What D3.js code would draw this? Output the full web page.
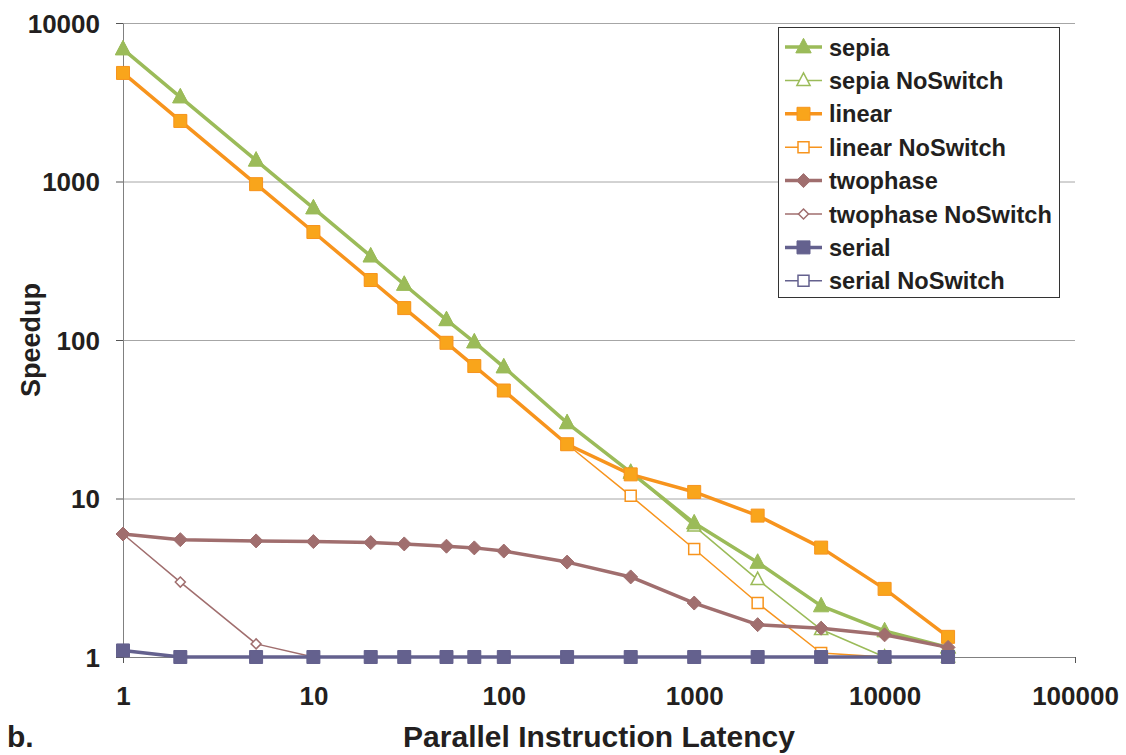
<!DOCTYPE html>
<html>
<head>
<meta charset="utf-8">
<script src="https://cdn.jsdelivr.net/npm/d3@7"></script>
<style>
  body { margin: 0; background: #fff; }
  svg text { font-family: "Liberation Sans", Arial, sans-serif; font-weight: bold; fill: #231f20; }
</style>
</head>
<body>
<svg class="chart"></svg>
<script>
// values
var latency = [1, 2, 5, 10, 20, 30, 50, 70, 100, 215, 464, 1000, 2154, 4642, 10000, 21544];

var sepia            = [6850, 3410, 1360, 680, 338, 224, 134, 97, 67.5, 30, 14.6, 7.0, 3.95, 2.1, 1.46, 1.15];
var sepiaNoSwitch    = [6850, 3410, 1360, 680, 338, 224, 134, 97, 67.5, 30, 14.6, 6.7, 3.08, 1.49, 1.0, 1.0];
var linear           = [4840, 2410, 962, 480, 239, 159, 96, 68.5, 48, 22, 14.2, 11.0, 7.8, 4.9, 2.69, 1.34];
var linearNoSwitch   = [4840, 2410, 962, 480, 239, 159, 96, 68.5, 48, 22, 10.4, 4.8, 2.19, 1.06, 1.0, 1.0];
var twophase         = [5.97, 5.5, 5.4, 5.35, 5.27, 5.17, 5.0, 4.88, 4.66, 3.97, 3.2, 2.19, 1.6, 1.52, 1.38, 1.15];
var twophaseNoSwitch = [5.97, 2.97, 1.21, 1, 1, 1, 1, 1, 1, 1, 1, 1, 1, 1, 1, 1];
var serial           = [1.1, 1, 1, 1, 1, 1, 1, 1, 1, 1, 1, 1, 1, 1, 1, 1];
var serialNoSwitch   = [1.1, 1, 1, 1, 1, 1, 1, 1, 1, 1, 1, 1, 1, 1, 1, 1];

var xTicks = [1, 10, 100, 1000, 10000, 100000];
var yTicks = [1, 10, 100, 1000, 10000];

var green = '#9bbb59', orange = '#f7941d', mauve = '#a06e6e', slate = '#64618e';

// legend order = series order
var series = [
  {name: 'sepia',              values: sepia,            color: green,  shape: 'tri', filled: true},
  {name: 'sepia NoSwitch',     values: sepiaNoSwitch,    color: green,  shape: 'tri', filled: false},
  {name: 'linear',             values: linear,           color: orange, shape: 'sq',  filled: true},
  {name: 'linear NoSwitch',    values: linearNoSwitch,   color: orange, shape: 'sq',  filled: false},
  {name: 'twophase',           values: twophase,         color: mauve,  shape: 'dia', filled: true},
  {name: 'twophase NoSwitch',  values: twophaseNoSwitch, color: mauve,  shape: 'dia', filled: false},
  {name: 'serial',             values: serial,           color: slate,  shape: 'sq',  filled: true},
  {name: 'serial NoSwitch',    values: serialNoSwitch,   color: slate,  shape: 'sq',  filled: false}
];

var W = 1126, H = 755;
var svg = d3.select('.chart').attr('width', W).attr('height', H);

var x = d3.scaleLog().domain([1, 100000]).range([123, 1075]),
    y = d3.scaleLog().domain([1, 10000]).range([657, 23]);

// gridlines
svg.append('g')
  .attr('transform', 'translate(123,0)')
  .call(d3.axisLeft(y).tickValues(yTicks.slice(1)).tickSize(-(1075 - 123)).tickFormat(''))
  .call(function(g) {
    g.select('.domain').remove();
    g.selectAll('.tick line').attr('stroke', '#a6a6a6').attr('stroke-width', 1);
  });

// y axis
svg.append('g')
  .attr('transform', 'translate(123,0)')
  .call(d3.axisLeft(y).tickValues(yTicks).tickSize(7).tickSizeOuter(0).tickPadding(16).tickFormat(d3.format('d')))
  .call(function(g) {
    g.select('.domain').attr('stroke', '#808080');
    g.selectAll('.tick line').attr('stroke', '#555');
    g.selectAll('.tick text').attr('font-size', 26).attr('font-family', null).attr('fill', '#231f20').attr('dy', '0.36em');
  });

// x axis
svg.append('g')
  .attr('transform', 'translate(0,657)')
  .call(d3.axisBottom(x).tickValues(xTicks).tickSize(6).tickSizeOuter(0).tickPadding(24).tickFormat(d3.format('d')))
  .call(function(g) {
    g.select('.domain').attr('stroke', '#808080');
    g.selectAll('.tick line').attr('stroke', '#555');
    g.selectAll('.tick text').attr('font-size', 26).attr('font-family', null).attr('fill', '#231f20');
  });

function markerPath(shape, s) {
  if (shape === 'tri') return 'M0,' + (-s * 0.62) + 'L' + (s * 0.55) + ',' + (s * 0.42) + 'L' + (-s * 0.55) + ',' + (s * 0.42) + 'Z';
  if (shape === 'dia') return 'M0,' + (-s / 2) + 'L' + (s / 2) + ',0L0,' + (s / 2) + 'L' + (-s / 2) + ',0Z';
  return 'M' + (-s / 2) + ',' + (-s / 2) + 'h' + s + 'v' + s + 'h' + (-s) + 'Z';
}
function markerSize(d) {
  if (d.filled) return d.shape === 'tri' ? 14 : (d.shape === 'dia' ? 14 : 13);
  return d.shape === 'tri' ? 12 : (d.shape === 'dia' ? 10 : 11);
}

var line = d3.line()
  .x(function(d) { return x(d[0]); })
  .y(function(d) { return y(d[1]); });

// NoSwitch series underneath, then the filled ones
var drawOrder = series.filter(function(s) { return !s.filled; }).concat(series.filter(function(s) { return s.filled; }));

drawOrder.forEach(function(s) {
  var pts = latency.map(function(l, i) { return [l, s.values[i]]; });
  var g = svg.append('g');
  g.append('path')
    .attr('d', line(pts))
    .attr('fill', 'none')
    .attr('stroke', s.color)
    .attr('stroke-width', s.filled ? 3.5 : 1.5)
    .attr('stroke-linejoin', 'round');
  g.selectAll('path.mk')
    .data(pts)
    .enter().append('path')
      .attr('class', 'mk')
      .attr('transform', function(d) { return 'translate(' + x(d[0]) + ',' + y(d[1]) + ')'; })
      .attr('d', markerPath(s.shape, markerSize(s)))
      .attr('fill', s.filled ? (s.color === orange ? '#f9a51b' : s.color) : '#fff')
      .attr('stroke', s.color)
      .attr('stroke-width', s.filled ? 1 : 1.5);
});

// legend
var lg = svg.append('g');
lg.append('rect')
  .attr('x', 778.5).attr('y', 27.5).attr('width', 281).attr('height', 270)
  .attr('fill', '#fff').attr('stroke', '#333').attr('stroke-width', 1);

series.forEach(function(s, i) {
  var cy = 47 + i * 33.4;
  var row = lg.append('g').attr('transform', 'translate(0,' + cy + ')');
  row.append('line')
    .attr('x1', 785).attr('x2', 822).attr('y1', 0).attr('y2', 0)
    .attr('stroke', s.color).attr('stroke-width', s.filled ? 3.5 : 1.5);
  row.append('path')
    .attr('transform', 'translate(803.5,0)')
    .attr('d', markerPath(s.shape, markerSize(s)))
    .attr('fill', s.filled ? (s.color === orange ? '#f9a51b' : s.color) : '#fff')
    .attr('stroke', s.color)
    .attr('stroke-width', s.filled ? 1 : 1.5);
  row.append('text')
    .attr('x', 829).attr('y', 0).attr('dy', '0.36em')
    .attr('font-size', 23.6)
    .text(s.name);
});

// axis titles
svg.append('text')
  .attr('x', 599).attr('y', 747)
  .attr('text-anchor', 'middle')
  .attr('font-size', 30)
  .text('Parallel Instruction Latency');

svg.append('text')
  .attr('transform', 'translate(40,340) rotate(-90)')
  .attr('text-anchor', 'middle')
  .attr('font-size', 27)
  .text('Speedup');

svg.append('text')
  .attr('x', 7).attr('y', 747)
  .attr('font-size', 30)
  .text('b.');
</script>
</body>
</html>
